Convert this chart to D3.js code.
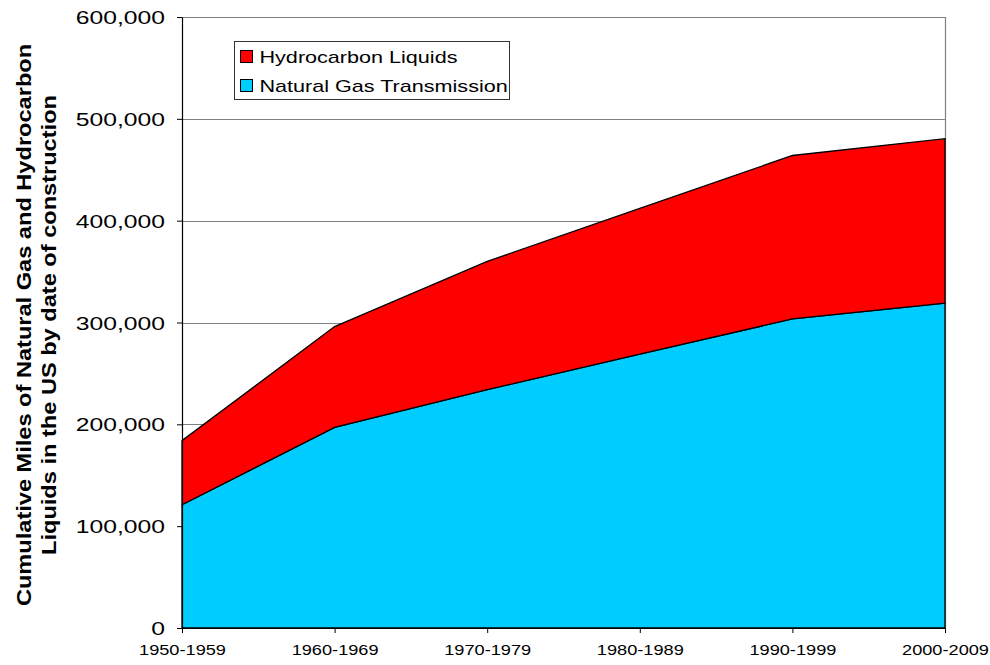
<!DOCTYPE html>
<html>
<head>
<meta charset="utf-8">
<script src="https://cdn.jsdelivr.net/npm/d3@7/dist/d3.min.js"></script>
<style>
  html, body { margin: 0; padding: 0; background: #fff; }
  svg { display: block; font-family: Arial, "Liberation Sans", sans-serif; }
</style>
</head>
<body>
<svg id="chart" width="990" height="665"></svg>
<script>
// Decades of construction
const decades = ["1950-1959", "1960-1969", "1970-1979", "1980-1989", "1990-1999", "2000-2009"];
// Cumulative miles, natural gas transmission
const gasMiles = [121000, 197000, 234000, 269000, 303500, 319000];
// Cumulative miles, hydrocarbon liquids (stacked on top of gas)
const liquidMiles = [63000, 99000, 126000, 143000, 160500, 161500];
// Y axis ticks
const yTicks = [0, 100000, 200000, 300000, 400000, 500000, 600000];

const seriesNames = ["Natural Gas Transmission", "Hydrocarbon Liquids"];
const seriesColors = { "Natural Gas Transmission": "#00CCFF", "Hydrocarbon Liquids": "#FF0000" };

// Text in this chart is set wide
const stretch = 1.3;

const rows = decades.map((d, i) => ({
  decade: d,
  "Natural Gas Transmission": gasMiles[i],
  "Hydrocarbon Liquids": liquidMiles[i]
}));

const margin = { left: 182, right: 45, top: 17, bottom: 37 };
const W = 990, H = 665;
const plotW = W - margin.left - margin.right;
const plotH = H - margin.top - margin.bottom;

const svg = d3.select("#chart");
const g = svg.append("g").attr("transform", `translate(${margin.left},${margin.top})`);

const x = d3.scalePoint().domain(decades).range([0, plotW]);
const y = d3.scaleLinear().domain([0, 600000]).range([plotH, 0]);

// Horizontal gridlines
g.append("g").selectAll("line")
  .data(yTicks.filter(t => t > 0))
  .join("line")
  .attr("x1", 0).attr("x2", plotW)
  .attr("y1", d => Math.round(y(d)) + 0.5).attr("y2", d => Math.round(y(d)) + 0.5)
  .attr("stroke", "#808080").attr("stroke-width", 1);

// Plot area right border
g.append("line")
  .attr("x1", plotW + 0.5).attr("x2", plotW + 0.5)
  .attr("y1", 0).attr("y2", plotH)
  .attr("stroke", "#808080").attr("stroke-width", 1.2);

// Stacked areas
const stack = d3.stack().keys(seriesNames);
const layers = stack(rows);
const area = d3.area()
  .x(d => x(d.data.decade))
  .y0(d => y(d[0]))
  .y1(d => y(d[1]));

g.append("g").selectAll("path")
  .data(layers)
  .join("path")
  .attr("d", area)
  .attr("fill", d => seriesColors[d.key])
  .attr("stroke", "#000")
  .attr("stroke-width", 1.3)
  .attr("stroke-linejoin", "miter");

// Y axis
const yAxis = g.append("g")
  .call(d3.axisLeft(y).tickValues(yTicks).tickFormat(d3.format(",")).tickSize(5).tickSizeOuter(0));
yAxis.select(".domain").attr("stroke", "#000").attr("stroke-width", 1.2);
yAxis.selectAll(".tick line").attr("stroke", "#000");
yAxis.selectAll("text")
  .attr("x", 0)
  .attr("dy", "0.35em")
  .attr("transform", `translate(-17,0) scale(${stretch},1)`)
  .attr("font-size", "19px")
  .attr("font-family", "Arial, 'Liberation Sans', sans-serif")
  .attr("fill", "#000");

// X axis
const xAxis = g.append("g")
  .attr("transform", `translate(0,${plotH})`)
  .call(d3.axisBottom(x).tickSize(5).tickSizeOuter(0));
xAxis.select(".domain").attr("stroke", "#000").attr("stroke-width", 1.2);
xAxis.selectAll(".tick line").attr("stroke", "#000");
xAxis.selectAll("text")
  .attr("y", 0)
  .attr("dy", "0.71em")
  .attr("transform", `translate(0,17) scale(${stretch},1)`)
  .attr("font-size", "14px")
  .attr("font-family", "Arial, 'Liberation Sans', sans-serif")
  .attr("fill", "#000");

// Y axis title (two lines)
const yTitle = svg.append("text")
  .attr("transform", `translate(0,325) rotate(-90) scale(1.18,1)`)
  .attr("text-anchor", "middle")
  .attr("font-size", "20px")
  .attr("font-weight", "bold")
  .attr("fill", "#000");
yTitle.append("tspan").attr("x", 0).attr("y", 31).text("Cumulative Miles of Natural Gas and Hydrocarbon");
yTitle.append("tspan").attr("x", 0).attr("y", 56).text("Liquids in the US by date of construction");

// Legend
const legendItems = ["Hydrocarbon Liquids", "Natural Gas Transmission"];
const legend = svg.append("g").attr("transform", "translate(234.5,41.5)");
legend.append("rect")
  .attr("width", 275).attr("height", 58)
  .attr("fill", "#fff").attr("stroke", "#333").attr("stroke-width", 1);
const li = legend.selectAll("g.item")
  .data(legendItems)
  .join("g")
  .attr("class", "item")
  .attr("transform", (d, i) => `translate(6,${9 + i * 29})`);
li.append("rect")
  .attr("width", 12).attr("height", 12)
  .attr("fill", d => seriesColors[d])
  .attr("stroke", "#000").attr("stroke-width", 1);
li.append("text")
  .attr("x", 0).attr("y", 0)
  .attr("dy", "0.36em")
  .attr("transform", `translate(19,6.5) scale(1.27,1)`)
  .attr("font-size", "17px")
  .attr("fill", "#000")
  .text(d => d);
</script>
</body>
</html>
